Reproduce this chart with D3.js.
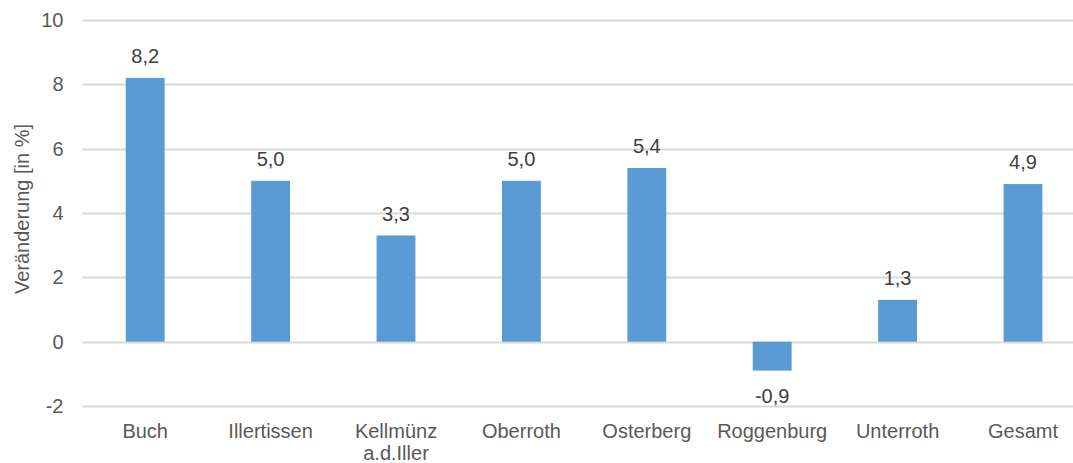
<!DOCTYPE html>
<html>
<head>
<meta charset="utf-8">
<script src="https://cdn.jsdelivr.net/npm/d3@7/dist/d3.min.js"></script>
<style>
  html, body { margin: 0; padding: 0; background: #fff; }
  svg { display: block; font-family: "Liberation Sans", Arial, sans-serif; }
</style>
</head>
<body>
<svg id="chart" width="1073" height="463"></svg>
<script>
// Veränderung je Gemeinde in Prozent
const categories = ["Buch", "Illertissen", "Kellmünz\na.d.Iller", "Oberroth", "Osterberg", "Roggenburg", "Unterroth", "Gesamt"];
const values = [8.2, 5.0, 3.3, 5.0, 5.4, -0.9, 1.3, 4.9];
const yTicks = [-2, 0, 2, 4, 6, 8, 10];
const yTitle = "Veränderung [in %]";

const svg = d3.select("#chart");
const plot = { left: 82.5, right: 1085.7, top: 20, bottom: 406 };
const FS = 20;

const x = d3.scaleBand()
  .domain(categories)
  .range([plot.left, plot.right])
  .paddingInner(0.69)
  .paddingOuter(0.345);

const y = d3.scaleLinear()
  .domain([-2, 10])
  .range([plot.bottom, plot.top]);

// German decimal comma, plain hyphen for negatives
const fmt = v => (v < 0 ? "-" : "") + Math.abs(v).toFixed(1).replace(".", ",");

// Gridlines
svg.append("g")
  .selectAll("line")
  .data(yTicks)
  .join("line")
  .attr("x1", plot.left)
  .attr("x2", plot.right)
  .attr("y1", d => Math.round(y(d)) + 0.5)
  .attr("y2", d => Math.round(y(d)) + 0.5)
  .attr("stroke", "#d9d9d9")
  .attr("stroke-width", 2);

// Y axis labels
const yAxis = d3.axisLeft(y).tickValues(yTicks).tickSize(0).tickPadding(0).tickFormat(d => String(d));
svg.append("g")
  .attr("transform", `translate(${plot.left - 19},0)`)
  .call(yAxis)
  .call(g => g.select(".domain").remove())
  .call(g => g.selectAll("text")
    .attr("fill", "#595959")
    .attr("font-size", FS)
    .attr("font-family", "Liberation Sans, Arial, sans-serif"));

// Bars
svg.append("g")
  .selectAll("rect")
  .data(values)
  .join("rect")
  .attr("x", (d, i) => x(categories[i]))
  .attr("width", x.bandwidth())
  .attr("y", d => y(Math.max(0, d)))
  .attr("height", d => Math.abs(y(d) - y(0)))
  .attr("fill", "#5b9bd5");

// Data labels
svg.append("g")
  .selectAll("text")
  .data(values)
  .join("text")
  .attr("x", (d, i) => x(categories[i]) + x.bandwidth() / 2)
  .attr("y", d => d >= 0 ? y(d) - 15 : y(d) + 32)
  .attr("text-anchor", "middle")
  .attr("font-size", FS)
  .attr("fill", "#404040")
  .text(fmt);

// Category labels
const xAxis = d3.axisBottom(x).tickSize(0).tickPadding(0);
svg.append("g")
  .attr("transform", `translate(0,${plot.bottom})`)
  .call(xAxis)
  .call(g => g.select(".domain").remove())
  .call(g => g.selectAll("text").each(function(d) {
    const t = d3.select(this);
    const lines = d.split("\n");
    t.text(null)
      .attr("y", 32)
      .attr("dy", null)
      .attr("fill", "#595959")
      .attr("font-size", FS)
      .attr("font-family", "Liberation Sans, Arial, sans-serif");
    lines.forEach((ln, k) => {
      t.append("tspan").attr("x", 0).attr("dy", k === 0 ? 0 : 22).text(ln);
    });
  }));

// Y axis title
svg.append("text")
  .attr("transform", `translate(29,209) rotate(-90)`)
  .attr("text-anchor", "middle")
  .attr("font-size", FS)
  .attr("fill", "#595959")
  .text(yTitle);
</script>
</body>
</html>
